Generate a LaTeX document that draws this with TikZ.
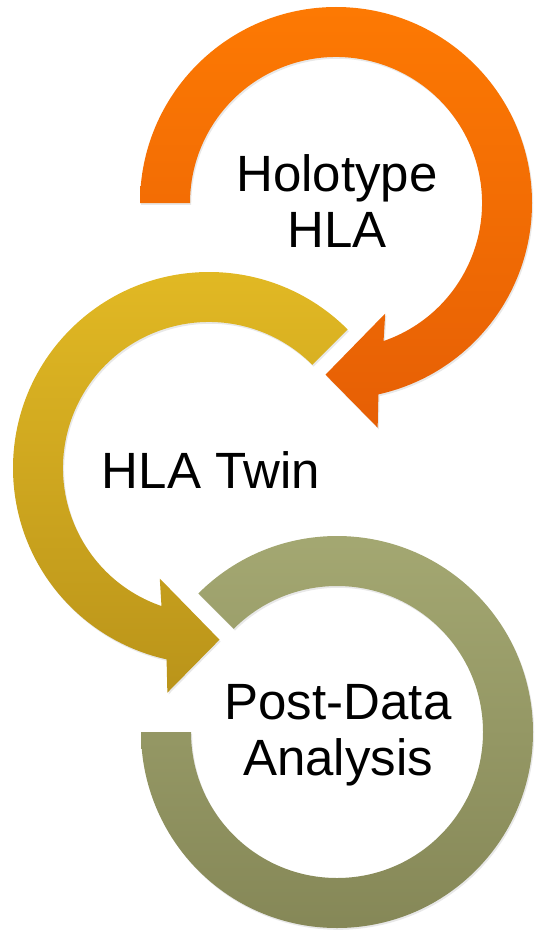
\documentclass[tikz,border=0pt]{standalone}
\usepackage{fontspec}
\setmainfont{Liberation Sans}
\usetikzlibrary{calc,shadows}
\definecolor{orTop}{RGB}{253,121,3}
\definecolor{orBot}{RGB}{230,95,5}
\definecolor{gdTop}{RGB}{227,186,36}
\definecolor{gdBot}{RGB}{186,148,26}
\definecolor{olTop}{RGB}{165,169,115}
\definecolor{olBot}{RGB}{132,134,86}
\tikzset{
  sh/.style={drop shadow={opacity=0.18, shadow xshift=1.2pt, shadow yshift=-1.8pt}},
  orangefill/.style={sh, top color=orTop, bottom color=orBot},
  goldfill/.style={sh, top color=gdTop, bottom color=gdBot},
  olivefill/.style={sh, top color=olTop, bottom color=olBot},
  lbl/.style={align=center, font=\fontsize{51}{56}\selectfont, text=black, inner sep=0pt}
}
\begin{document}
\begin{tikzpicture}[x=1pt,y=1pt]
\useasboundingbox (0,0) rectangle (535,-931);
\coordinate (oc) at (336,-203);
\coordinate (gc) at (209,-468);
\coordinate (pc) at (337,-732);
% olive ring
\path[olivefill] ($(pc)+(135:196)$) arc[start angle=135, end angle=-180, radius=196]
  -- ($(pc)+(180:146)$) arc[start angle=-180, end angle=135, radius=146] -- cycle;
% gold arrow
\path[goldfill] ($(gc)+(45:196)$) arc[start angle=45, end angle=257.5, radius=196]
  -- ($(gc)+(-100.5:228.5)$) -- ($(gc)+(-86.5:172)$) -- ($(gc)+(-114:121)$)
  -- ($(gc)+(-109:146)$) arc[start angle=251, end angle=45, radius=146] -- cycle;
% orange arrow
\path[orangefill] ($(oc)+(180:196)$) arc[start angle=180, end angle=-77.5, radius=196]
  -- ($(oc)+(-79.5:228.5)$) -- ($(oc)+(-93.5:172)$) -- ($(oc)+(-66:121)$)
  -- ($(oc)+(-71:146)$) arc[start angle=-71, end angle=180, radius=146] -- cycle;
\node[lbl] (t1) at ($(oc)+(1,2)$) {Holotype\\HLA};
\node[lbl] (t2) at ($(gc)+(2,-2)$) {HLA Twin};
\node[lbl] (t3) at ($(pc)+(1,-3)$) {Post-Data\\Analysis};
\end{tikzpicture}
\end{document}
